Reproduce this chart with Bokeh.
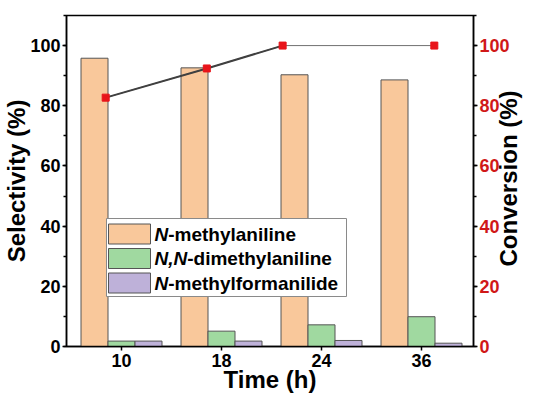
import math
from bokeh.plotting import figure
from bokeh.models import (Range1d, LinearAxis, FixedTicker, SingleIntervalTicker,
                          ColumnDataSource)
from bokeh.core.properties import value
from bokeh.embed import file_html
from bokeh.resources import INLINE

# ---------------- data ----------------
time_labels = ["10", "18", "24", "36"]
time_hours = [10, 18, 24, 36]
sel_nma = [95.8, 92.6, 90.3, 88.6]      # N-methylaniline
sel_dma = [1.8, 5.1, 7.2, 9.9]          # N,N-dimethylaniline
sel_nmf = [1.8, 1.8, 2.0, 1.1]          # N-methylformanilide
conversion = [82.7, 92.4, 100.0, 100.0]

series_names_italic = ["N", "N,N", "N"]
series_names_rest = ["-methylaniline", "-dimethylaniline", "-methylformanilide"]
series_colors = ["#F9C89B", "#A0D9A0", "#BEB1D9"]

FONT = "Liberation Sans"
FRAME_L, FRAME_T = 59, 15
FRAME_W, FRAME_H = 407, 331
X0, X1 = 0.45, 4.52
Y0, Y1 = 0, 110
T0, T1 = 6.9, 39.1

p = figure(frame_width=FRAME_W, frame_height=FRAME_H,
           output_backend="svg", toolbar_location=None,
           x_range=Range1d(X0, X1), y_range=Range1d(Y0, Y1),
           min_border_left=FRAME_L, min_border_top=FRAME_T,
           min_border_right=0, min_border_bottom=0)
p.extra_x_ranges = {"time": Range1d(T0, T1)}
p.extra_y_ranges = {"conv": Range1d(Y0, Y1)}
p.xgrid.visible = False
p.ygrid.visible = False
p.outline_line_color = "black"
p.outline_line_width = 1.5
p.background_fill_color = "white"
p.border_fill_color = "white"

# ---------------- bars ----------------
idx = list(range(1, len(time_labels) + 1))
bw = 0.27
for k, (vals, col) in enumerate(zip([sel_nma, sel_dma, sel_nmf], series_colors)):
    xs = [i + (k - 1) * bw for i in idx]
    p.vbar(x=xs, top=vals, bottom=0, width=bw, fill_color=col,
           line_color="#555555", line_width=1)

# ---------------- conversion line ----------------
p.line(time_hours, conversion, x_range_name="time", y_range_name="conv",
       line_color="#707070", line_width=1)
p.line(time_hours[:3], conversion[:3], x_range_name="time", y_range_name="conv",
       line_color="#404040", line_width=2)
p.scatter(time_hours, conversion, x_range_name="time", y_range_name="conv",
          marker="square", size=7, fill_color="#E8141A", line_color="#E8141A")

# ---------------- axes ----------------
def style_axis(ax, size="18px"):
    ax.axis_line_color = "black"
    ax.axis_line_width = 1.5
    ax.major_tick_line_color = "black"
    ax.major_tick_line_width = 1.5
    ax.minor_tick_line_color = "black"
    ax.minor_tick_line_width = 1.5
    ax.major_tick_in = 0
    ax.major_tick_out = 4
    ax.minor_tick_in = 0
    ax.minor_tick_out = 3
    ax.major_label_text_font = FONT
    ax.major_label_text_font_style = "bold"
    ax.major_label_text_font_size = size
    ax.major_label_text_color = "black"
    ax.axis_label_text_font = FONT
    ax.axis_label_text_font_style = "bold"
    ax.axis_label_text_font_size = "24px"
    ax.axis_label_text_color = "black"
    ax.major_label_standoff = 2

xa = p.xaxis[0]
style_axis(xa)
xa.ticker = FixedTicker(ticks=idx, minor_ticks=[])
xa.major_label_overrides = {i: lab for i, lab in zip(idx, time_labels)}
xa.major_label_standoff = 3
xa.axis_label = "Time (h)"
xa.axis_label_standoff = -4

ya = p.yaxis[0]
style_axis(ya)
ya.ticker = SingleIntervalTicker(interval=20, num_minor_ticks=2)
ya.axis_label = "Selectivity (%)"
ya.axis_label_standoff = -3

ra = LinearAxis(y_range_name="conv",
                ticker=SingleIntervalTicker(interval=20, num_minor_ticks=2))
style_axis(ra)
ra.major_label_text_color = "#D01818"
ra.axis_label_orientation = math.pi / 2
if "axis_label_align" in ra.properties():
    # anchor the (bottom-to-top) title at the lower end of the axis and lift it
    # to the middle with non-breaking spaces
    ra.axis_label_align = "start"
    ra.axis_label = "\u00a0" * 12 + "Conversion (%)"
else:
    ra.axis_label = "Conversion (%)"
ra.axis_label_standoff = -4
p.add_layout(ra, "right")

# ---------------- legend (manual, mixed italic) ----------------
def xd(px):
    return X0 + (px - FRAME_L) / FRAME_W * (X1 - X0)

def yd(py):
    return Y1 - (py - FRAME_T) / FRAME_H * (Y1 - Y0)

box_l, box_r, box_t, box_b = 99, 339, 218, 296
p.quad(left=[xd(box_l)], right=[xd(box_r)], top=[yd(box_t)], bottom=[yd(box_b)],
       fill_color="white", line_color="#8a8a8a", line_width=1)

row_centers = [233.5, 258, 282.5]
patch_l, patch_r, patch_h = 101, 143, 20
p.quad(left=[xd(patch_l)] * 3, right=[xd(patch_r)] * 3,
       top=[yd(c - patch_h / 2) for c in row_centers],
       bottom=[yd(c + patch_h / 2) for c in row_centers],
       fill_color=series_colors, line_color="#555555", line_width=1)

adv = {"N": 0.722, ",": 0.278}
fs = 19
offs = [sum(adv[ch] for ch in s) * fs for s in series_names_italic]
text_x = [xd(147)] * 3
text_y = [yd(c) for c in row_centers]
p.text(x=text_x, y=text_y, text=series_names_italic,
       text_font=value(FONT), text_font_style="bold italic",
       text_font_size=f"{fs}px", text_baseline="middle", text_align="left",
       text_color="black")
src = ColumnDataSource(dict(x=text_x, y=text_y, t=series_names_rest, o=offs))
p.text(x="x", y="y", text="t", x_offset="o", source=src,
       text_font=value(FONT), text_font_style="bold",
       text_font_size=f"{fs}px", text_baseline="middle", text_align="left",
       text_color="black")

open("out.html", "w").write(file_html(p, INLINE))
